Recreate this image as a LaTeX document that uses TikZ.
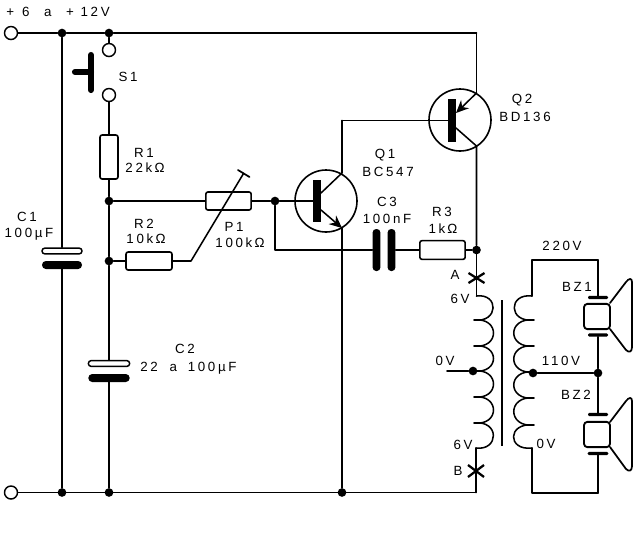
\documentclass[tikz,border=0pt]{standalone}
\usepackage{fontspec}
\setmainfont[LetterSpace=20]{Liberation Sans}
\usetikzlibrary{arrows.meta}
\tikzset{
  wire/.style={line width=1.15pt,line join=round,line cap=round},
  dotj/.style={circle,fill=black,inner sep=0pt,minimum size=6.5pt},
  term/.style={circle,draw,line width=1.1pt,fill=white,inner sep=0pt,minimum size=#1*0.75pt},
  res/.style={rectangle,draw,line width=1.2pt,rounded corners=1.6pt,inner sep=0pt,fill=white},
  capo/.style={rectangle,draw,line width=1.1pt,rounded corners=2.2pt,inner sep=0pt,fill=white,minimum height=4.4pt},
  caps/.style={rectangle,fill=black,rounded corners=2.9pt,inner sep=0pt,minimum height=6pt},
  capv/.style={rectangle,fill=black,rounded corners=2.6pt,inner sep=0pt,minimum width=5.8pt,minimum height=31.5pt},
  plate/.style={rectangle,fill=black,rounded corners=0.9pt,inner sep=0pt,minimum height=2.3pt},
  bar/.style={rectangle,fill=black,inner sep=0pt,minimum width=6pt,minimum height=32pt},
  qcirc/.style={circle,draw,line width=1.2pt,inner sep=0pt,minimum size=46.5pt},
  bzbox/.style={rectangle,draw,line width=1.4pt,rounded corners=2.6pt,inner sep=0pt,fill=white,minimum width=19.5pt,minimum height=19pt},
  lab/.style={inner sep=0pt,font=\fontsize{10}{12}\selectfont},
  arrowq/.style={wire,-{Stealth[length=9.5pt,width=8.5pt]}}
}
\begin{document}
\begin{tikzpicture}[x=0.75pt,y=-0.75pt]
\useasboundingbox (0,0) rectangle (640,537);
% named points
\node[term=13] (tp) at (11,33) {};
\node[term=13] (tn) at (11,492.5) {};
\node[dotj] (j1) at (62,33) {};
\node[dotj] (j2) at (109,33) {};
\coordinate (ctr) at (476.5,33);
\node[term=13] (s1a) at (109,50) {};
\node[term=13] (s1b) at (109,95) {};
\node[res,minimum width=13.5pt,minimum height=33pt] (r1) at (109,157) {};
\node[dotj] (j3) at (109,201) {};
\node[dotj] (j4) at (109,261) {};
\node[res,minimum width=34.5pt,minimum height=13.5pt] (r2) at (149,261) {};
\node[res,minimum width=34pt,minimum height=13.5pt] (p1) at (228.5,201) {};
\coordinate (pb) at (191,261);
\coordinate (pt) at (243.5,173.5);
\coordinate (pt1) at (238,170);
\coordinate (pt2) at (249.5,177);
\node[dotj] (j5) at (275,201) {};
\coordinate (c5) at (275,250);
\node[capv] (c3a) at (376.5,250) {};
\node[capv] (c3b) at (391.5,250) {};
\node[res,minimum width=34pt,minimum height=14pt] (r3) at (442.5,250) {};
\node[dotj] (j6) at (476.5,250) {};
\node[capo,minimum width=30pt] (c1a) at (62,251) {};
\node[caps,minimum width=30pt] (c1b) at (62,265) {};
\node[capo,minimum width=31pt] (c2a) at (109,363.5) {};
\node[caps,minimum width=31pt] (c2b) at (109,378) {};
\node[dotj] (j7) at (62,492.5) {};
\node[dotj] (j8) at (109,492.5) {};
\node[dotj] (j9) at (342,492.5) {};
\coordinate (cbr) at (476,492.5);
% push button
\coordinate (btt) at (91,55);
\coordinate (btb) at (91,90);
\coordinate (btl) at (75,72);
\draw[line width=4.6pt,line cap=round] (btt) -- (btb);
\draw[line width=4.6pt,line cap=round] (btl) -- (91,72);
% wires
\draw[wire] (tp) -- (j1) -- (j2) -- (ctr);
\draw[wire] (tn) -- (j7) -- (j8) -- (j9) -- (cbr);
\draw[wire] (j1) -- (c1a);
\draw[wire] (c1b) -- (j7);
\draw[wire] (j2) -- (s1a);
\draw[wire] (s1b) -- (r1);
\draw[wire] (r1) -- (j3) -- (j4) -- (c2a);
\draw[wire] (c2b) -- (j8);
\draw[wire] (j3) -- (p1);
\draw[wire] (j4) -- (r2);
\draw[wire] (r2) -- (pb) -- (pt);
\draw[wire,line width=1.3pt] (pt1) -- (pt2);
% Q1
\node[qcirc] (q1) at (326,201) {};
\node[bar] (q1b) at (317,201) {};
\coordinate (q1c) at (342,173);
\coordinate (q1ci) at (321,193);
\coordinate (q1e) at (342,228);
\coordinate (q1ei) at (321,210);
\coordinate (q1ct) at (342,120.5);
\draw[wire] (p1) -- (j5) -- (q1b);
\draw[wire] (j5) -- (c5) -- (c3a);
\draw[wire] (q1ci) -- (q1c) -- (q1ct);
\draw[arrowq] (q1ei) -- (q1e);
\draw[wire] (q1e) -- (j9);
% Q2
\node[qcirc] (q2) at (460,120) {};
\node[bar] (q2b) at (452,120.5) {};
\coordinate (q2e) at (476.5,93);
\coordinate (q2ei) at (456,113);
\coordinate (q2c) at (476.5,146);
\coordinate (q2ci) at (456,128);
\draw[wire] (q1ct) -- (q2b);
\draw[wire] (ctr) -- (q2e);
\draw[arrowq] (q2e) -- (q2ei);
\draw[wire] (q2ci) -- (q2c) -- (j6);
% C3, R3
\draw[wire] (c3b) -- (r3);
\draw[wire] (r3) -- (j6);
% left coil
\coordinate (lt) at (476.5,296);
\coordinate (lb) at (476,448);
\node[dotj] (ltap) at (473,371) {};
\coordinate (ltapw) at (447,371);
\coordinate (xa) at (476.5,278);
\coordinate (xb) at (476,471);
\draw[wire] (j6) -- (xa) -- (lt);
\draw[wire] (lb) -- (xb) -- (cbr);
\draw[wire] (ltapw) -- (ltap);
\draw[line width=1.7pt] ([shift={(-8,-5)}]xa) -- ([shift={(8,5)}]xa);
\draw[line width=1.7pt] ([shift={(-8,5)}]xa) -- ([shift={(8,-5)}]xa);
\draw[line width=1.7pt] ([shift={(-8,-6)}]xb) -- ([shift={(8,6)}]xb);
\draw[line width=1.7pt] ([shift={(-8,6)}]xb) -- ([shift={(8,-6)}]xb);
\draw[wire] (476.5,296) .. controls (499,293) and (499,323) .. (474,320)
  .. controls (500,317) and (500,349) .. (474,346)
  .. controls (500,343) and (500,374) .. (474,371)
  .. controls (500,368) and (500,400) .. (474,397)
  .. controls (500,394) and (500,426) .. (474,423)
  .. controls (500,420) and (499,451) .. (476,448);
% core
\coordinate (cot) at (502,300);
\coordinate (cob) at (502,446);
\draw[line width=1.3pt] (cot) -- (cob);
% right coil
\coordinate (rt) at (532,296);
\coordinate (rb) at (532,448);
\node[dotj] (rtap) at (533,373) {};
\coordinate (rtc) at (532,260);
\coordinate (rtr) at (598,260);
\coordinate (rbc) at (532,493);
\coordinate (rbr) at (598,493);
\draw[wire] (532,296) .. controls (508,293) and (508,323) .. (534,320)
  .. controls (507,317) and (507,349) .. (534,346)
  .. controls (507,343) and (507,375) .. (534,372)
  .. controls (507,369) and (507,401) .. (534,398)
  .. controls (507,395) and (507,428) .. (534,425)
  .. controls (507,422) and (507,451) .. (532,448);
\draw[wire] (rt) -- (rtc) -- (rtr);
\draw[wire] (rb) -- (rbc) -- (rbr);
% buzzers
\node[plate,minimum width=15pt] (bz1a) at (598,297.5) {};
\node[plate,minimum width=15pt] (bz1b) at (598,335) {};
\node[bzbox] (bz1) at (597,316.5) {};
\node[plate,minimum width=15pt] (bz2a) at (598,414.5) {};
\node[plate,minimum width=15.5pt] (bz2b) at (598,453.5) {};
\node[bzbox] (bz2) at (597,434.5) {};
\node[dotj] (j10) at (598,373) {};
\draw[wire] (rtr) -- (bz1a);
\draw[wire] (bz1b) -- (j10) -- (bz2a);
\draw[wire] (bz2b) -- (rbr);
\draw[wire] (rtap) -- (j10);
\draw[wire,line width=1.3pt] (610,303) -- (626,282) .. controls (629,278) and (632,278) .. (632,282) -- (632,347) .. controls (632,352) and (629,353) .. (626,350) -- (610,329);
\draw[wire,line width=1.3pt] (610,422) -- (626,401) .. controls (629,397) and (632,397) .. (632,401) -- (632,466) .. controls (632,471) and (629,472) .. (626,469) -- (610,447);
% labels
\node[lab,anchor=west] (l0) at (6,12) {+\hspace{.6em}6\hspace{1.1em}a\hspace{1.1em}+\hspace{.5em}12V};
\node[lab] (l1) at (128,77) {S1};
\node[lab] (l2) at (144,153) {R1};
\node[lab] (l3) at (145,168) {22k$\,$Ω};
\node[lab] (l4) at (27,217) {C1};
\node[lab] (l5) at (29,234) {100µF};
\node[lab] (l6) at (144,224) {R2};
\node[lab] (l7) at (146,239) {10k$\,$Ω};
\node[lab] (l8) at (234,227) {P1};
\node[lab] (l9) at (240,243) {100k$\,$Ω};
\node[lab] (l10) at (185,349) {C2};
\node[lab,anchor=west] (l11) at (140,368) {22\hspace{.9em}a\hspace{.8em}100µF};
\node[lab] (l12) at (385,155) {Q1};
\node[lab] (l13) at (388,172) {BC547};
\node[lab] (l14) at (387,202) {C3};
\node[lab] (l15) at (387,219) {100nF};
\node[lab] (l16) at (442,212) {R3};
\node[lab] (l17) at (443,229) {1k$\,$Ω};
\node[lab] (l18) at (522,100) {Q2};
\node[lab] (l19) at (525,117) {BD136};
\node[lab] (l20) at (455,275) {A};
\node[lab] (l21) at (460,299) {6V};
\node[lab] (l22) at (445,361) {0V};
\node[lab] (l23) at (463,445) {6V};
\node[lab] (l24) at (458,471) {B};
\node[lab] (l25) at (562,246) {220V};
\node[lab] (l26) at (577,287) {BZ1};
\node[lab] (l27) at (561,361) {110V};
\node[lab] (l28) at (576,395) {BZ2};
\node[lab] (l29) at (546,444) {0V};
\end{tikzpicture}
\end{document}
